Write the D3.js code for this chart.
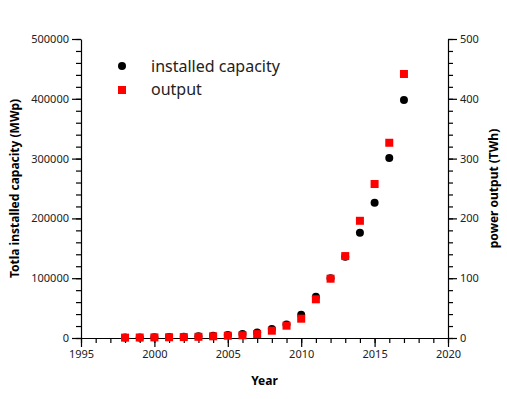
<!DOCTYPE html>
<html>
<head>
<meta charset="utf-8">
<script src="https://cdn.jsdelivr.net/npm/d3@7"></script>
<style>
  body { margin: 0; background: #fff; }
  text { font-family: "Noto Sans", "Open Sans", sans-serif; fill: #222; }
  .axis-title { font-weight: bold; font-size: 12px; fill: #000; }
  .tick text { font-size: 11px; }
</style>
</head>
<body>
<div id="chart"></div>
<script>
// data
const years = [1998, 1999, 2000, 2001, 2002, 2003, 2004, 2005, 2006, 2007,
               2008, 2009, 2010, 2011, 2012, 2013, 2014, 2015, 2016, 2017];
const capacity = [800, 1000, 1250, 1700, 2200, 2800, 3700, 5100, 6600, 9200,
                  15000, 22500, 39000, 69000, 100000, 136000, 176000, 226000, 301000, 398000];
const output = [0.6, 0.8, 1.0, 1.2, 1.5, 2.0, 2.8, 3.8, 4.5, 6.5,
                12.2, 20.6, 32.3, 64.7, 99.2, 137, 196, 257.5, 326.5, 441.5];
const seriesNames = ["installed capacity", "output"];
const xTicks = [1995, 2000, 2005, 2010, 2015, 2020];

const width = 507, height = 399;
const margin = {left: 81, right: 59, top: 39, bottom: 61};

const svg = d3.select("#chart").append("svg")
  .attr("width", width).attr("height", height);

const x = d3.scaleLinear().domain([1995, 2020]).range([margin.left, width - margin.right]);
const yL = d3.scaleLinear().domain([0, 500000]).range([height - margin.bottom, margin.top]);
const yR = d3.scaleLinear().domain([0, 500]).range([height - margin.bottom, margin.top]);

// minor ticks first, then major ticks on top
function drawAxis(axisFn, scale, minorVals, majorVals, fmt, transform) {
  const g = svg.append("g").attr("transform", transform);
  g.append("g").call(axisFn(scale).tickValues(minorVals).tickSize(5).tickFormat(""))
    .call(s => s.select(".domain").remove());
  g.append("g").call(axisFn(scale).tickValues(majorVals).tickSize(9).tickSizeOuter(0).tickPadding(3).tickFormat(fmt));
  g.selectAll("line, path").attr("stroke", "#000").attr("stroke-width", 1.2);
  return g;
}

drawAxis(d3.axisBottom, x, d3.range(1995, 2021, 1), xTicks, d3.format("d"),
  `translate(0,${height - margin.bottom})`);
drawAxis(d3.axisLeft, yL, d3.range(0, 500001, 20000), d3.range(0, 500001, 100000), d3.format("d"),
  `translate(${margin.left},0)`);
drawAxis(d3.axisRight, yR, d3.range(0, 501, 20), d3.range(0, 501, 100), d3.format("d"),
  `translate(${width - margin.right},0)`);

// axis titles
svg.append("text").attr("class", "axis-title")
  .attr("x", (margin.left + width - margin.right) / 2).attr("y", height - 14)
  .attr("text-anchor", "middle").text("Year");
svg.append("text").attr("class", "axis-title")
  .attr("transform", `translate(19,${(margin.top + height - margin.bottom) / 2}) rotate(-90)`)
  .attr("text-anchor", "middle").text("Totla installed capacity (MWp)");
svg.append("text").attr("class", "axis-title")
  .attr("transform", `translate(498,${(margin.top + height - margin.bottom) / 2}) rotate(-90)`)
  .attr("text-anchor", "middle").text("power output (TWh)");

// points
svg.append("g").selectAll("circle")
  .data(years.map((yr, i) => ({yr, v: capacity[i]})))
  .join("circle")
  .attr("cx", d => x(d.yr)).attr("cy", d => yL(d.v)).attr("r", 4)
  .attr("fill", "#000");

const sq = 8;
svg.append("g").selectAll("rect")
  .data(years.map((yr, i) => ({yr, v: output[i]})))
  .join("rect")
  .attr("x", d => x(d.yr) - sq / 2).attr("y", d => yR(d.v) - sq / 2)
  .attr("width", sq).attr("height", sq)
  .attr("fill", "#ff0000");

// legend
const legend = svg.append("g").attr("transform", "translate(122,66)");
legend.append("circle").attr("cx", 0).attr("cy", 0).attr("r", 4).attr("fill", "#000");
legend.append("rect").attr("x", -sq / 2).attr("y", 24 - sq / 2).attr("width", sq).attr("height", sq).attr("fill", "#ff0000");
legend.selectAll("text.leg").data(seriesNames).join("text")
  .attr("class", "leg")
  .attr("x", 29).attr("y", (d, i) => i * 23 + 6)
  .style("font-size", "16px")
  .text(d => d);
</script>
</body>
</html>
